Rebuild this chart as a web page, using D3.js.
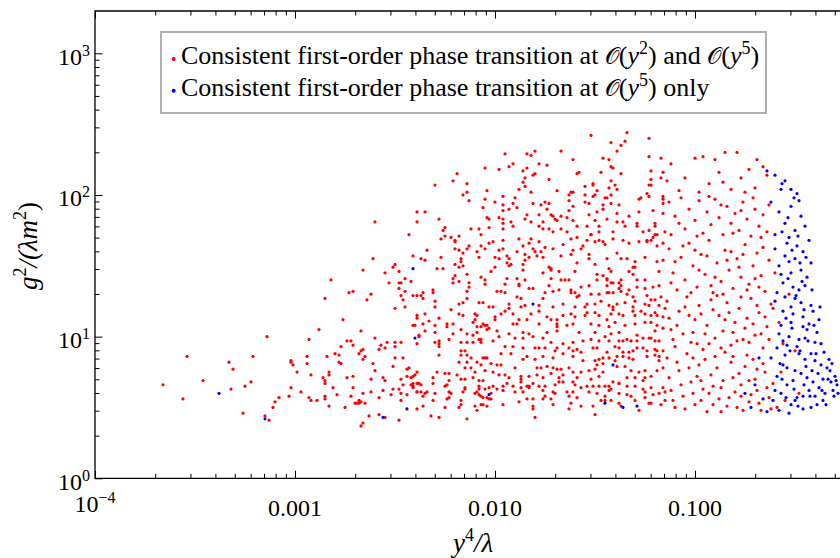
<!DOCTYPE html>
<html>
<head>
<meta charset="utf-8">
<script src="https://cdn.jsdelivr.net/npm/d3@7"></script>
<style>
  html, body { margin: 0; padding: 0; background: #fff; }
  svg { display: block; }
  text { font-family: "Liberation Serif", "DejaVu Serif", serif; fill: #000; }
</style>
</head>
<body>
<svg id="chart" width="840" height="558"></svg>
<script>
// Scan points, each stored as [log10(y^4/λ), log10(g^2/(λ m^2))]
// Consistent first-order transition at both O(y^2) and O(y^5)
const redPoints = [
  [-3.14,1.00],[-2.93,0.98],[-3.54,0.86],[-3.21,0.86],[-2.94,0.86],[-3.33,0.82],[-3.02,0.83],[-3.02,0.82],[-3.01,0.80],[-2.94,0.81],
  [-3.31,0.77],[-2.99,0.75],[-2.92,0.73],[-3.66,0.66],[-3.46,0.69],[-3.22,0.68],[-3.25,0.65],[-3.32,0.63],[-3.02,0.64],[-2.97,0.61],
  [-3.56,0.56],[-3.03,0.58],[-3.08,0.57],[-3.10,0.54],[-2.93,0.57],[-2.92,0.55],[-3.11,0.50],[-3.26,0.46],[-3.15,0.44],[-3.13,0.41],
  [-2.05,2.19],[-2.19,2.15],[-2.21,2.10],[-2.30,2.07],[-2.14,2.08],[-2.04,2.03],[-2.16,2.00],[-2.14,2.02],[-2.05,1.97],[-2.13,1.96],
  [-2.06,1.91],[-2.39,1.88],[-2.35,1.88],[-2.28,1.83],[-2.60,1.81],[-2.39,1.81],[-2.04,1.84],[-2.03,1.83],
  [-2.25,1.77],[-2.03,1.77],[-2.26,1.75],[-2.12,1.76],[-2.08,1.76],[-2.07,1.72],[-2.43,1.72],[-2.25,1.71],[-2.18,1.71],[-2.27,1.69],
  [-2.22,1.70],[-2.20,1.68],[-2.20,1.67],[-2.03,1.66],[-2.13,1.64],[-2.07,1.64],[-2.14,1.62],[-2.20,1.62],[-2.18,1.61],[-2.05,1.62],
  [-2.09,1.60],[-2.16,1.59],[-2.34,1.61],[-2.41,1.57],[-2.37,1.55],[-2.35,1.54],[-2.27,1.56],[-2.17,1.55],[-2.61,1.55],[-2.17,1.53],
  [-2.08,1.56],[-2.50,1.51],[-2.51,1.49],[-2.20,1.51],[-2.18,1.49],[-2.16,1.50],[-2.29,1.48],[-2.26,1.48],[-2.66,1.47],[-2.48,1.46],
  [-2.55,1.45],[-2.14,1.44],[-2.20,1.43],[-2.21,1.41],[-2.07,1.42],[-2.45,1.41],[-2.82,1.40],[-2.05,1.40],[-2.18,1.39],[-2.21,1.38],
  [-2.13,1.38],[-2.53,1.38],[-2.48,1.38],[-2.47,1.38],[-2.42,1.39],[-2.05,1.37],[-2.48,1.34],[-2.45,1.32],[-2.31,1.33],[-2.31,1.31],
  [-2.13,1.35],[-2.14,1.32],[-2.14,1.27],[-2.73,1.31],[-2.71,1.32],[-2.62,1.30],[-2.36,1.31],[-2.37,1.29],[-2.39,1.29],[-2.41,1.29],
  [-2.47,1.29],[-2.36,1.27],[-2.85,1.27],[-2.64,1.26],[-2.46,1.26],[-2.30,1.25],[-2.16,1.24],[-2.18,1.23],[-2.06,1.24],[-2.08,1.24],
  [-2.03,1.21],[-2.30,1.21],[-2.50,1.20],[-2.45,1.21],[-2.22,1.19],[-2.18,1.16],[-2.16,1.15],[-2.10,1.16],[-2.09,1.15],[-2.35,1.16],
  [-2.39,1.15],[-2.39,1.13],[-2.28,1.13],[-2.76,1.12],[-2.40,1.08],[-2.33,1.11],[-2.24,1.09],[-2.21,1.09],[-2.10,1.12],[-2.11,1.10],
  [-2.06,1.09],[-2.05,1.08],[-2.04,1.08],[-2.09,1.07],[-2.03,1.06],[-2.04,1.05],[-2.30,1.08],[-2.24,1.07],[-2.36,1.09],[-2.41,1.08],
  [-2.35,1.04],[-2.17,1.05],[-2.07,1.07],[-2.88,1.05],[-2.67,1.04],[-2.30,1.03],[-2.21,1.02],[-2.14,1.02],[-2.09,1.03],[-2.38,1.01],
  [-2.60,0.99],[-2.38,1.00],[-2.74,0.97],[-2.72,0.97],[-2.71,0.94],[-2.54,0.96],[-2.50,0.96],[-2.47,0.96],[-2.39,0.95],[-2.57,0.94],
  [-2.55,0.92],[-2.50,0.93],[-2.58,0.91],[-2.30,0.96],[-2.28,0.95],[-2.28,0.97],[-2.28,0.93],[-2.23,0.98],[-2.17,0.96],[-2.14,0.96],
  [-2.11,1.01],[-2.11,0.96],[-2.08,0.98],[-2.07,0.98],[-2.07,0.96],[-2.77,0.93],[-2.66,0.91],[-2.67,0.90],[-2.68,0.88],[-2.65,0.86],
  [-2.80,0.88],[-2.78,0.87],[-2.84,0.86],[-2.66,0.84],[-2.50,0.85],[-2.46,0.85],[-2.28,0.87],[-2.17,0.90],[-2.15,0.90],[-2.14,0.87],
  [-2.17,0.87],[-2.06,0.85],[-2.04,0.85],[-2.05,0.85],[-2.12,0.85],[-2.09,0.82],[-2.18,0.82],[-2.14,0.82],[-2.78,0.82],[-2.77,0.81],
  [-2.61,0.81],[-2.51,0.79],[-2.12,0.78],[-2.15,0.78],[-2.07,0.80],[-2.05,0.76],[-2.60,0.76],[-2.83,0.75],[-2.83,0.73],[-2.44,0.77],
  [-2.43,0.78],[-2.39,0.75],[-2.40,0.73],[-2.41,0.72],[-2.42,0.71],[-2.29,0.75],[-2.25,0.74],[-2.23,0.74],[-2.31,0.71],[-2.19,0.73],
  [-2.10,0.75],[-2.86,0.71],[-2.85,0.69],[-2.85,0.67],[-2.74,0.71],[-2.71,0.72],[-2.62,0.70],[-2.56,0.71],[-2.55,0.69],[-2.47,0.70],
  [-2.44,0.72],[-2.41,0.67],[-2.39,0.67],[-2.38,0.67],[-2.37,0.66],[-2.42,0.66],[-2.41,0.65],[-2.41,0.64],[-2.46,0.66],[-2.31,0.67],
  [-2.23,0.69],[-2.25,0.65],[-2.24,0.66],[-2.17,0.70],[-2.15,0.70],[-2.11,0.71],[-2.08,0.69],[-2.06,0.69],[-2.08,0.65],[-2.08,0.63],
  [-2.09,0.61],[-2.05,0.63],[-2.03,0.64],[-2.81,0.64],[-2.71,0.64],[-2.62,0.61],[-2.56,0.62],[-2.51,0.63],[-2.48,0.63],[-2.47,0.60],
  [-2.44,0.59],[-2.52,0.59],[-2.39,0.61],[-2.37,0.61],[-2.39,0.61],[-2.34,0.61],[-2.35,0.60],[-2.36,0.58],[-2.30,0.60],[-2.23,0.61],
  [-2.22,0.60],[-2.15,0.63],[-2.15,0.64],[-2.16,0.61],[-2.10,0.60],[-2.08,0.59],[-2.07,0.58],[-2.06,0.57],[-2.04,0.57],[-2.03,0.56],
  [-2.79,0.59],[-2.85,0.58],[-2.85,0.56],[-2.66,0.60],[-2.72,0.58],[-2.89,0.55],[-2.58,0.57],[-2.68,0.55],[-2.69,0.53],[-2.70,0.53],
  [-2.68,0.53],[-2.67,0.54],[-2.65,0.53],[-2.47,0.55],[-2.31,0.55],[-2.23,0.57],[-2.24,0.56],[-2.17,0.55],[-2.17,0.52],[-2.18,0.50],
  [-2.07,0.52],[-2.06,0.52],[-2.04,0.51],[-2.10,0.51],[-2.09,0.48],[-2.83,0.51],[-2.75,0.50],[-2.36,0.51],[-2.39,0.49],[-2.25,0.50],
  [-2.58,0.45],[-2.55,0.43],[-2.63,0.44],[-2.32,0.44],[-2.28,0.43],[-2.14,0.42],[-2.48,0.41],[-2.66,0.39],[-2.67,0.37],
  [-1.34,2.44],[-1.52,2.42],[-1.42,2.37],[-1.35,2.38],[-1.23,2.40],[-1.37,2.35],[-1.95,2.29],[-1.84,2.29],[-1.82,2.28],[-1.80,2.31],
  [-1.67,2.31],[-1.39,2.31],[-1.46,2.26],[-1.43,2.25],[-1.61,2.25],[-1.23,2.27],[-1.17,2.26],[-1.91,2.22],[-1.93,2.20],[-1.98,2.18],
  [-1.84,2.19],[-1.86,2.17],[-1.78,2.22],[-1.74,2.21],[-1.42,2.20],[-1.41,2.19],[-1.47,2.16],[-1.22,2.17],[-1.16,2.16],[-1.59,2.15],
  [-1.58,2.16],[-1.37,2.15],[-1.81,2.14],[-1.80,2.15],[-1.85,2.12],[-1.86,2.09],[-1.73,2.11],[-1.42,2.10],[-1.22,2.11],[-1.17,2.12],
  [-1.88,2.04],[-1.85,2.06],[-1.82,2.02],[-1.51,2.08],[-1.51,2.07],[-1.40,2.07],[-1.55,2.06],[-1.49,2.03],[-1.43,2.05],[-1.39,2.04],
  [-1.23,2.07],[-1.22,2.07],[-1.69,2.03],[-1.62,2.02],[-1.61,2.02],[-1.96,1.99],[-1.90,1.98],[-1.63,2.00],[-1.55,2.00],[-1.50,2.00],
  [-1.51,1.99],[-1.42,2.00],[-1.44,1.98],[-1.45,1.98],[-1.24,2.01],[-1.23,1.99],[-1.27,1.98],[-1.28,1.97],[-1.16,1.99],[-1.16,1.97],
  [-2.00,1.95],[-1.96,1.93],[-1.91,1.94],[-1.81,1.94],[-1.77,1.93],[-1.75,1.95],[-1.73,1.94],[-1.74,1.90],[-1.63,1.96],[-1.61,1.92],
  [-1.55,1.95],[-1.53,1.94],[-1.89,1.91],[-1.93,1.90],[-1.96,1.89],[-1.63,1.89],[-1.46,1.93],[-1.42,1.94],[-1.38,1.93],[-1.16,1.94],
  [-1.21,1.89],[-1.39,1.87],[-1.53,1.86],[-1.84,1.86],[-1.78,1.86],[-1.72,1.86],[-1.71,1.85],[-1.67,1.85],[-1.64,1.84],[-1.49,1.88],
  [-1.46,1.90],[-1.33,1.85],[-1.28,1.88],[-1.16,1.87],[-1.98,1.84],[-1.96,1.83],[-1.85,1.83],[-1.70,1.83],[-1.69,1.82],[-1.61,1.82],
  [-1.50,1.82],[-1.44,1.83],[-1.39,1.81],[-1.36,1.81],[-1.29,1.80],[-1.82,1.81],[-1.76,1.81],[-1.20,1.80],[-1.96,1.80],[-1.92,1.81],
  [-1.96,1.76],[-1.91,1.78],[-1.78,1.78],[-1.76,1.76],[-1.73,1.76],[-1.71,1.74],[-1.67,1.76],[-1.64,1.74],[-1.59,1.78],[-1.54,1.78],
  [-1.48,1.78],[-1.48,1.74],[-1.52,1.72],[-1.41,1.74],[-1.35,1.78],[-1.29,1.78],[-1.26,1.74],[-1.23,1.75],[-1.20,1.78],[-1.19,1.72],
  [-1.15,1.74],[-2.01,1.67],[-1.96,1.68],[-1.88,1.69],[-1.82,1.69],[-1.83,1.66],[-1.78,1.67],[-1.86,1.64],[-1.96,1.62],[-1.98,1.61],
  [-1.89,1.60],[-1.81,1.62],[-1.80,1.60],[-1.77,1.60],[-1.75,1.63],[-1.71,1.62],[-1.62,1.69],[-1.59,1.70],[-1.54,1.68],[-1.52,1.72],
  [-1.50,1.67],[-1.48,1.68],[-1.46,1.67],[-1.45,1.65],[-1.41,1.69],[-1.36,1.68],[-1.33,1.66],[-1.28,1.67],[-1.24,1.67],[-1.24,1.68],
  [-1.22,1.68],[-1.21,1.70],[-1.20,1.72],[-1.19,1.64],[-1.16,1.66],[-1.56,1.64],[-1.57,1.62],[-1.61,1.61],[-1.66,1.65],[-2.00,1.56],
  [-1.98,1.55],[-1.94,1.57],[-1.93,1.55],[-1.85,1.58],[-1.85,1.54],[-1.83,1.56],[-1.79,1.57],[-1.76,1.56],[-1.67,1.57],[-1.62,1.58],
  [-1.53,1.58],[-1.53,1.55],[-1.50,1.51],[-1.44,1.55],[-1.39,1.59],[-1.37,1.55],[-1.34,1.55],[-1.30,1.53],[-1.25,1.56],[-1.19,1.53],
  [-1.16,1.54],[-1.94,1.52],[-1.92,1.51],[-1.93,1.50],[-1.86,1.51],[-1.86,1.47],[-1.73,1.49],[-1.72,1.48],[-1.72,1.47],[-2.00,1.49],
  [-2.02,1.46],[-1.59,1.52],[-1.43,1.48],[-1.33,1.46],[-1.31,1.49],[-1.30,1.49],[-1.31,1.44],[-1.18,1.46],[-1.42,1.46],[-1.76,1.45],
  [-1.68,1.46],[-1.60,1.46],[-1.49,1.44],[-1.46,1.43],[-1.44,1.41],[-1.94,1.41],[-1.89,1.41],[-1.85,1.40],[-1.72,1.41],[-1.67,1.40],
  [-1.65,1.40],[-1.63,1.40],[-1.49,1.40],[-1.44,1.40],[-1.37,1.40],[-1.41,1.38],[-1.29,1.40],[-1.25,1.40],[-1.95,1.37],[-1.88,1.37],
  [-1.88,1.36],[-1.83,1.34],[-1.81,1.34],[-1.73,1.36],[-1.68,1.33],[-1.71,1.32],[-1.62,1.33],[-1.57,1.35],[-1.53,1.36],[-1.44,1.36],
  [-1.42,1.38],[-1.38,1.38],[-1.37,1.36],[-1.38,1.34],[-1.43,1.31],[-1.37,1.32],[-1.34,1.30],[-1.33,1.33],[-1.29,1.35],[-1.25,1.34],
  [-1.21,1.35],[-1.18,1.36],[-1.99,1.32],[-1.97,1.32],[-1.95,1.31],[-1.89,1.28],[-1.87,1.27],[-1.76,1.27],[-1.75,1.31],[-1.62,1.31],
  [-1.60,1.31],[-1.58,1.29],[-1.59,1.28],[-1.52,1.30],[-1.48,1.30],[-1.47,1.25],[-1.44,1.31],[-1.41,1.31],[-1.31,1.28],[-1.24,1.29],
  [-1.22,1.26],[-1.20,1.26],[-1.17,1.28],[-1.93,1.23],[-1.93,1.20],[-2.01,1.21],[-1.95,1.18],[-1.87,1.21],[-1.85,1.22],[-1.78,1.22],
  [-1.71,1.21],[-1.66,1.23],[-1.60,1.21],[-1.55,1.21],[-1.54,1.23],[-1.50,1.23],[-1.43,1.22],[-1.41,1.21],[-1.41,1.19],[-1.39,1.23],
  [-1.35,1.24],[-1.30,1.25],[-1.31,1.21],[-1.25,1.23],[-1.23,1.22],[-1.18,1.22],[-1.15,1.20],[-1.97,1.16],[-2.00,1.14],[-1.91,1.16],
  [-1.91,1.09],[-1.88,1.12],[-1.84,1.12],[-1.78,1.18],[-1.82,1.16],[-1.74,1.14],[-1.72,1.12],[-1.69,1.12],[-1.66,1.15],[-1.62,1.16],
  [-1.60,1.14],[-1.55,1.15],[-1.54,1.17],[-1.50,1.17],[-1.48,1.15],[-1.42,1.16],[-1.38,1.16],[-1.36,1.15],[-1.31,1.18],[-1.30,1.15],
  [-1.27,1.18],[-1.25,1.16],[-1.22,1.15],[-1.20,1.17],[-1.19,1.15],[-1.16,1.14],[-2.00,1.12],[-1.89,1.09],[-1.78,1.09],[-1.69,1.07],
  [-1.69,1.09],[-1.64,1.08],[-1.61,1.09],[-1.52,1.09],[-1.48,1.08],[-1.44,1.12],[-1.43,1.07],[-1.40,1.10],[-1.35,1.08],[-1.30,1.09],
  [-1.25,1.10],[-1.22,1.10],[-1.19,1.08],[-1.16,1.06],[-1.99,1.04],[-1.93,1.02],[-1.86,1.03],[-1.83,1.02],[-1.74,1.03],[-1.69,1.04],
  [-1.58,1.03],[-1.50,1.03],[-1.42,1.02],[-1.38,1.03],[-1.29,1.01],[-1.20,1.04],
  [-2.01,0.97],[-1.98,1.00],[-1.90,0.99],[-1.86,0.99],[-1.81,1.00],[-1.76,0.99],[-1.72,0.96],[-1.66,0.95],[-1.61,0.96],[-1.56,0.97],
  [-1.52,0.98],[-1.48,0.97],[-1.45,1.00],[-1.43,0.97],[-1.38,0.97],[-1.36,0.97],[-1.34,0.98],[-1.32,0.97],[-1.29,0.97],[-1.26,0.99],
  [-1.23,0.99],[-1.22,0.99],[-1.20,0.97],[-1.18,0.97],[-1.95,0.93],[-1.91,0.93],[-1.86,0.92],[-1.80,0.92],[-1.78,0.92],[-1.75,0.92],
  [-1.69,0.92],[-1.63,0.92],[-1.61,0.90],[-1.59,0.91],[-1.57,0.89],[-1.51,0.92],[-1.49,0.92],[-1.44,0.89],[-1.40,0.93],[-1.38,0.92],
  [-1.36,0.89],[-1.33,0.89],[-1.31,0.90],[-1.29,0.92],[-1.26,0.92],[-1.24,0.90],[-1.20,0.91],[-1.19,0.90],[-1.16,0.90],[-1.97,0.88],
  [-1.92,0.88],[-1.84,0.86],[-1.80,0.84],[-1.76,0.86],[-1.71,0.85],[-1.70,0.90],[-1.66,0.88],[-1.61,0.86],[-1.56,0.83],[-1.50,0.83],
  [-1.48,0.84],[-1.46,0.85],[-1.43,0.85],[-1.40,0.83],[-1.39,0.86],[-1.36,0.86],[-1.33,0.85],[-1.31,0.84],[-1.24,0.86],[-1.20,0.87],
  [-1.18,0.86],[-2.02,0.81],[-1.99,0.80],[-1.97,0.80],[-1.90,0.78],[-1.86,0.84],[-1.79,0.78],[-1.77,0.78],[-1.74,0.79],[-1.71,0.78],
  [-1.69,0.77],[-1.67,0.77],[-1.63,0.78],[-1.61,0.75],[-1.57,0.75],[-1.53,0.76],[-1.50,0.77],[-1.49,0.80],[-1.46,0.75],[-1.46,0.81],
  [-1.39,0.79],[-1.35,0.79],[-1.32,0.76],[-1.28,0.75],[-1.25,0.76],[-1.22,0.72],[-1.19,0.76],[-1.18,0.83],[-1.16,0.78],[-2.01,0.75],
  [-1.98,0.73],[-1.95,0.73],[-1.93,0.71],[-1.87,0.72],[-1.87,0.70],[-1.83,0.72],[-1.79,0.73],[-1.76,0.71],[-1.72,0.74],[-1.68,0.71],
  [-1.66,0.73],[-1.61,0.68],[-1.59,0.71],[-1.52,0.70],[-1.48,0.72],[-1.41,0.68],[-1.38,0.67],[-1.34,0.71],[-1.30,0.71],[-1.26,0.69],
  [-1.25,0.71],[-2.01,0.65],[-1.96,0.65],[-1.94,0.67],[-1.91,0.65],[-1.87,0.68],[-1.87,0.64],[-1.84,0.65],[-1.83,0.65],[-1.81,0.67],
  [-1.78,0.65],[-1.75,0.65],[-1.70,0.66],[-1.68,0.68],[-1.66,0.68],[-1.60,0.66],[-1.54,0.65],[-1.51,0.65],[-1.48,0.65],[-1.45,0.65],
  [-1.43,0.65],[-1.42,0.63],[-1.38,0.67],[-1.34,0.65],[-1.30,0.65],[-1.26,0.63],[-1.22,0.64],[-1.16,0.64],[-2.02,0.60],[-1.99,0.63],
  [-1.96,0.62],[-1.90,0.61],[-1.86,0.61],[-1.83,0.64],[-1.76,0.62],[-1.71,0.61],[-1.70,0.60],[-1.64,0.61],[-1.61,0.61],[-1.57,0.64],
  [-1.53,0.61],[-1.49,0.60],[-1.43,0.62],[-1.38,0.60],[-1.34,0.59],[-1.32,0.58],[-1.25,0.61],[-1.21,0.59],[-1.18,0.60],[-1.15,0.61],
  [-2.02,0.56],[-1.96,0.52],[-1.88,0.54],[-1.84,0.56],[-1.81,0.56],[-1.76,0.56],[-1.75,0.58],[-1.72,0.56],[-1.71,0.52],[-1.63,0.58],
  [-1.62,0.53],[-1.59,0.57],[-1.57,0.51],[-1.47,0.55],[-1.45,0.58],[-1.42,0.55],[-1.38,0.53],[-1.30,0.55],[-1.25,0.57],[-1.23,0.53],
  [-1.17,0.52],[-1.81,0.51],[-1.81,0.49],[-1.80,0.43],[-1.63,0.49],[-1.51,0.51],[-1.50,0.45],[-1.45,0.55],[-1.37,0.51],[-1.28,0.48],
  [-1.22,0.53],
  [-1.12,2.22],[-1.05,2.12],[-1.00,2.26],[-0.96,2.27],[-0.93,2.08],[-0.90,2.25],[-0.88,2.16],[-0.85,2.30],[-0.82,2.04],[-0.79,2.30],
  [-0.77,2.12],[-0.73,2.18],[-0.70,2.05],[-0.69,2.25],[-0.66,2.20],[-1.08,2.03],[-1.14,2.10],[-0.98,2.02],[-0.86,2.09],[-0.75,2.02],
  [-0.64,2.14],
  [-1.13,1.95],[-1.10,1.85],[-1.07,1.98],[-1.05,1.76],[-1.03,1.90],[-1.00,1.82],[-0.98,1.96],[-0.96,1.73],[-0.94,1.88],[-0.92,1.79],
  [-0.90,1.97],[-0.88,1.84],[-0.86,1.72],[-0.84,1.92],[-0.82,1.80],[-0.80,1.87],[-0.78,1.75],[-0.76,1.95],[-0.74,1.83],[-0.72,1.71],
  [-0.70,1.90],[-0.68,1.78],[-0.66,1.86],[-0.64,1.74],[-1.12,1.72],[-1.08,1.80],[-0.99,1.71],[-0.93,1.99],[-0.87,1.93],[-0.81,1.73],
  [-0.77,1.89],[-0.71,1.98],[-0.67,1.70],[-0.63,1.93],
  [-1.13,1.62],[-1.11,1.45],[-1.09,1.33],[-1.07,1.56],[-1.05,1.40],[-1.03,1.66],[-1.01,1.50],[-0.99,1.35],[-0.97,1.58],[-0.95,1.44],
  [-0.93,1.68],[-0.91,1.31],[-0.89,1.52],[-0.87,1.39],[-0.85,1.61],[-0.83,1.47],[-0.81,1.34],[-0.79,1.55],[-0.77,1.42],[-0.75,1.65],
  [-0.73,1.37],[-0.71,1.50],[-0.69,1.59],[-0.67,1.43],[-0.65,1.32],[-0.63,1.54],[-1.12,1.38],[-1.06,1.64],[-1.02,1.31],[-0.98,1.47],
  [-0.94,1.57],[-0.90,1.42],[-0.86,1.30],[-0.82,1.60],[-0.78,1.49],[-0.74,1.33],[-0.70,1.41],[-0.66,1.63],[-1.10,1.53],[-1.00,1.61],
  [-0.92,1.36],[-0.84,1.54],[-0.76,1.58],[-0.68,1.35],
  [-1.14,1.25],[-1.12,1.05],[-1.10,0.93],[-1.08,1.18],[-1.06,1.02],[-1.04,1.28],[-1.02,0.96],[-1.00,1.12],[-0.98,1.22],[-0.96,0.91],
  [-0.94,1.08],[-0.92,1.26],[-0.90,0.99],[-0.88,1.15],[-0.86,1.04],[-0.84,1.24],[-0.82,0.94],[-0.80,1.10],[-0.78,1.20],[-0.76,0.98],
  [-0.74,1.13],[-0.72,1.27],[-0.70,1.01],[-0.68,1.17],[-0.66,0.92],[-0.64,1.07],[-0.62,1.23],[-1.13,1.13],[-1.09,1.08],[-1.05,1.21],
  [-1.01,1.03],[-0.97,1.16],[-0.93,0.95],[-0.89,1.29],[-0.85,1.12],[-0.81,1.03],[-0.77,1.28],[-0.73,0.96],[-0.69,1.22],[-0.65,1.14],
  [-1.11,0.98],[-1.03,1.15],[-0.95,1.02],[-0.87,0.92],[-0.79,0.97],[-0.71,1.09],[-0.63,0.98],[-0.99,0.95],[-0.91,1.19],[-0.83,1.17],
  [-0.75,1.06],[-0.67,1.02],
  [-1.14,0.85],[-1.12,0.62],[-1.10,0.50],[-1.08,0.76],[-1.06,0.58],[-1.04,0.88],[-1.02,0.68],[-1.00,0.52],[-0.98,0.80],[-0.96,0.63],
  [-0.94,0.47],[-0.92,0.73],[-0.90,0.86],[-0.88,0.56],[-0.86,0.69],[-0.84,0.51],[-0.82,0.82],[-0.80,0.61],[-0.78,0.74],[-0.76,0.48],
  [-0.74,0.87],[-0.72,0.59],[-0.70,0.70],[-0.68,0.53],[-0.66,0.81],[-0.64,0.64],[-0.62,0.49],[-1.13,0.71],[-1.11,0.55],[-1.07,0.66],
  [-1.05,0.49],[-1.03,0.78],[-1.01,0.60],[-0.99,0.72],[-0.97,0.55],[-0.95,0.84],[-0.93,0.60],[-0.91,0.52],[-0.89,0.78],[-0.87,0.64],
  [-0.85,0.89],[-0.83,0.57],[-0.81,0.71],[-0.79,0.50],[-0.77,0.66],[-0.75,0.79],[-0.73,0.54],[-0.71,0.84],[-0.69,0.62],[-0.67,0.48],
  [-0.65,0.75],[-0.63,0.57],[-1.09,0.82],[-0.97,0.69],[-0.87,0.47],[-0.77,0.58],[-0.69,0.77],[-1.15,0.55],[-1.01,0.85],[-0.91,0.65],
  [-0.81,0.86],[-0.73,0.69],[-0.61,0.67],
  [-0.60,1.45],[-0.58,1.10],[-0.57,0.75],[-0.55,0.55],[-0.53,1.30],[-0.50,0.90],[-0.48,0.60],[-0.59,0.50],[-0.61,1.20],[-0.56,0.95]
];

// Consistent first-order transition at O(y^5) only
const bluePoints = [
  [-3.38,0.60],[-3.15,0.42],[-2.41,1.48],[-2.40,0.99],[-2.03,0.59],[-2.44,0.49],[-2.56,0.43],[-1.81,1.23],[-1.41,0.80],[-1.45,0.53],
  [-1.36,0.50],[-1.29,0.51],
  [-0.64,2.17],[-0.60,2.14],[-0.57,2.04],[-0.52,2.04],[-0.49,2.01],[-0.55,2.10],[-0.62,1.95],[-0.58,1.88],[-0.55,1.80],[-0.52,1.92],
  [-0.50,1.75],[-0.47,1.85],[-0.45,1.78],[-0.60,1.72],[-0.53,1.70],[-0.48,1.96],
  [-0.60,1.62],[-0.58,1.50],[-0.56,1.38],[-0.54,1.66],[-0.52,1.45],[-0.50,1.55],[-0.48,1.33],[-0.46,1.60],[-0.44,1.42],[-0.42,1.52],
  [-0.59,1.31],[-0.55,1.57],[-0.51,1.35],[-0.47,1.47],[-0.43,1.68],[-0.57,1.44],[-0.53,1.53],[-0.49,1.64],[-0.45,1.36],
  [-0.60,1.25],[-0.58,1.02],[-0.56,1.18],[-0.54,0.94],[-0.52,1.10],[-0.50,1.27],[-0.48,0.98],[-0.46,1.14],[-0.44,1.05],[-0.42,1.22],
  [-0.40,0.96],[-0.38,1.12],[-0.59,0.92],[-0.57,1.08],[-0.55,1.28],[-0.53,1.00],[-0.51,1.16],[-0.49,0.93],[-0.47,1.24],[-0.45,0.99],
  [-0.43,1.09],[-0.41,1.18],[-0.39,1.03],[-0.37,0.95],[-0.52,1.21],[-0.46,1.07],[-0.56,0.97],
  [-0.62,0.85],[-0.60,0.62],[-0.58,0.48],[-0.56,0.80],[-0.54,0.66],[-0.52,0.52],[-0.50,0.76],[-0.48,0.88],[-0.46,0.58],[-0.44,0.71],
  [-0.42,0.50],[-0.40,0.83],[-0.38,0.64],[-0.36,0.55],[-0.34,0.78],[-0.32,0.68],[-0.30,0.72],[-0.29,0.66],[-0.61,0.55],[-0.59,0.72],
  [-0.57,0.60],[-0.55,0.87],[-0.53,0.46],[-0.51,0.69],[-0.49,0.57],[-0.47,0.74],[-0.45,0.84],[-0.43,0.62],[-0.41,0.68],[-0.39,0.52],
  [-0.37,0.80],[-0.35,0.60],[-0.33,0.84],[-0.31,0.62],[-0.54,0.78],[-0.46,0.49],[-0.40,0.58],[-0.36,0.70],[-0.42,0.88],[-0.50,0.55],
  [-0.72,0.50],[-0.70,0.66],[-0.66,0.56],[-0.68,0.85],[-0.75,0.60],[-0.64,0.47],
  [-0.565,1.74],[-0.515,1.61],[-0.475,1.52],[-0.535,1.41],[-0.495,1.29],[-0.455,1.19],[-0.515,1.06],[-0.475,0.90],[-0.445,0.79],
  [-0.505,0.63],[-0.565,0.70],[-0.425,0.58],[-0.385,0.74],[-0.355,0.89],[-0.325,0.76],[-0.305,0.58],[-0.345,0.52],[-0.415,1.33],
  [-0.435,0.97],[-0.465,1.39],[-0.545,1.13],[-0.575,0.81],[-0.525,0.90],[-0.485,1.71],[-0.445,1.56],[-0.405,1.08],[-0.375,1.21],
  [-0.395,0.88],[-0.545,0.57],[-0.485,0.51],[-0.455,0.66],[-0.535,1.84],[-0.505,1.98],[-0.565,2.08],[-0.415,0.76],[-0.365,0.62],
  [-0.335,0.70],[-0.285,0.60],[-0.315,0.81],[-0.295,0.69]
];

const xMajorTicks = [1e-4, 1e-3, 1e-2, 1e-1];
const xTickLabels = [["10", "\u22124"], ["0.001"], ["0.010"], ["0.100"]];
const yMajorTicks = [1, 10, 100, 1000];
const yTickLabels = [["10", "0"], ["10", "1"], ["10", "2"], ["10", "3"]];

// Legend rows as rich-text runs: n = plain, i = italic, c = calligraphic, s = superscript
const legendRows = [
  { color: "#ff0000", runs: [
    ["Consistent first-order phase transition at ", "n"], ["\uD835\uDCAA", "c"], ["(", "n"], ["y", "i"], ["2", "s"],
    [") and ", "n"], ["\uD835\uDCAA", "c"], ["(", "n"], ["y", "i"], ["5", "s"], [")", "n"] ] },
  { color: "#0000ff", runs: [
    ["Consistent first-order phase transition at ", "n"], ["\uD835\uDCAA", "c"], ["(", "n"], ["y", "i"], ["5", "s"],
    [") only", "n"] ] }
];

const W = 840, H = 558;
const serif = "'Liberation Serif', 'DejaVu Serif', serif";
const plot = { left: 95, right: 840, top: 11, bottom: 478.3 };
const decadeX = 200, decadeY = 141.67;
const xMax = Math.pow(10, -4 + (plot.right - plot.left) / decadeX);
const yMax = Math.pow(10, (plot.bottom - plot.top) / decadeY);

const x = d3.scaleLog().domain([1e-4, xMax]).range([plot.left, plot.right]);
const y = d3.scaleLog().domain([1, yMax]).range([plot.bottom, plot.top]);

const svg = d3.select("#chart");
svg.append("rect").attr("width", W).attr("height", H).attr("fill", "#fff");

// minor tick values for each decade
const xMinor = [];
for (let e = -4; e < 0; e++) for (let k = 2; k < 10; k++) { const v = k * Math.pow(10, e); if (v < xMax) xMinor.push(v); }
const yMinor = [];
for (let e = 0; e < 4; e++) for (let k = 2; k < 10; k++) { const v = k * Math.pow(10, e); if (v < yMax) yMinor.push(v); }

function tidy(g) {
  g.select(".domain").remove();
  g.selectAll(".tick line").attr("stroke", "#000").attr("stroke-width", 1);
  g.selectAll(".tick text").remove();
}
const majorLen = 7.5, minorLen = 4.5;

// bottom and top ticks (pointing inward)
svg.append("g").attr("transform", `translate(0,${plot.bottom})`)
  .call(d3.axisBottom(x).tickValues(xMajorTicks).tickSize(-majorLen).tickSizeOuter(0)).call(tidy);
svg.append("g").attr("transform", `translate(0,${plot.bottom})`)
  .call(d3.axisBottom(x).tickValues(xMinor).tickSize(-minorLen).tickSizeOuter(0)).call(tidy);
svg.append("g").attr("transform", `translate(0,${plot.top})`)
  .call(d3.axisTop(x).tickValues(xMajorTicks).tickSize(-majorLen).tickSizeOuter(0)).call(tidy);
svg.append("g").attr("transform", `translate(0,${plot.top})`)
  .call(d3.axisTop(x).tickValues(xMinor).tickSize(-minorLen).tickSizeOuter(0)).call(tidy);
// left ticks
svg.append("g").attr("transform", `translate(${plot.left},0)`)
  .call(d3.axisLeft(y).tickValues(yMajorTicks).tickSize(-majorLen).tickSizeOuter(0)).call(tidy);
svg.append("g").attr("transform", `translate(${plot.left},0)`)
  .call(d3.axisLeft(y).tickValues(yMinor).tickSize(-minorLen).tickSizeOuter(0)).call(tidy);

// frame (left, top, bottom)
svg.append("path")
  .attr("d", `M${plot.right},${plot.top}H${plot.left}V${plot.bottom}H${plot.right}`)
  .attr("fill", "none").attr("stroke", "#000").attr("stroke-width", 1.3);

// tick labels
const tickFont = 24, supFont = 16;
xMajorTicks.forEach((v, i) => {
  const lab = xTickLabels[i];
  const t = svg.append("text").attr("x", x(v)).attr("y", lab.length > 1 ? 512 : 516)
    .attr("text-anchor", "middle").attr("font-family", serif).attr("font-size", tickFont);
  t.append("tspan").text(lab[0]);
  if (lab.length > 1) t.append("tspan").attr("font-size", supFont).attr("dy", -9).text(lab[1]);
});
yMajorTicks.forEach((v, i) => {
  const lab = yTickLabels[i];
  const t = svg.append("text").attr("x", 90).attr("y", y(v) + 11.5)
    .attr("text-anchor", "end").attr("font-family", serif).attr("font-size", tickFont);
  t.append("tspan").text(lab[0]);
  t.append("tspan").attr("font-size", supFont).attr("dy", -9).text(lab[1]);
});

// axis titles
const xt = svg.append("text").attr("x", 473).attr("y", 552).attr("text-anchor", "middle")
  .attr("font-family", serif).attr("font-size", 27).attr("font-style", "italic");
xt.append("tspan").text("y");
xt.append("tspan").attr("font-size", 18).attr("dy", -11).attr("font-style", "normal").text("4");
xt.append("tspan").attr("dy", 11).text("/\u03BB");

const yt = svg.append("text").attr("transform", "translate(37,246) rotate(-90)").attr("text-anchor", "middle")
  .attr("font-family", serif).attr("font-size", 27).attr("font-style", "italic");
yt.append("tspan").text("g");
yt.append("tspan").attr("font-size", 18).attr("dy", -11).attr("font-style", "normal").text("2");
yt.append("tspan").attr("dy", 11).text("/(\u03BBm");
yt.append("tspan").attr("font-size", 18).attr("dy", -11).attr("font-style", "normal").text("2");
yt.append("tspan").attr("dy", 11).attr("font-style", "normal").text(")");

// points
const pts = svg.append("g");
pts.selectAll("circle.red").data(redPoints).join("circle").attr("class", "red")
  .attr("cx", d => x(Math.pow(10, d[0]))).attr("cy", d => y(Math.pow(10, d[1])))
  .attr("r", 1.6).attr("fill", "#ff0000");
pts.selectAll("circle.blue").data(bluePoints).join("circle").attr("class", "blue")
  .attr("cx", d => x(Math.pow(10, d[0]))).attr("cy", d => y(Math.pow(10, d[1])))
  .attr("r", 1.6).attr("fill", "#0000ff");

// legend
const lg = svg.append("g");
lg.append("rect").attr("x", 161).attr("y", 32).attr("width", 605).attr("height", 81)
  .attr("fill", "#fff").attr("stroke", "#b0b0b0").attr("stroke-width", 2);
legendRows.forEach((row, i) => {
  const base = 64 + i * 31.7;
  lg.append("circle").attr("cx", 173.7).attr("cy", base - 5).attr("r", 2).attr("fill", row.color);
  const t = lg.append("text").attr("x", 181).attr("y", base)
    .attr("font-family", serif).attr("font-size", 26);
  let raised = false;
  row.runs.forEach(([s, kind]) => {
    const sp = t.append("tspan").text(s);
    if (kind === "i") sp.attr("font-style", "italic");
    if (kind === "c") sp.attr("font-family", "'DejaVu Serif', 'DejaVu Sans', serif").attr("font-size", 23);
    if (kind === "s") { sp.attr("font-size", 18).attr("dy", -10); raised = true; }
    else if (raised) { sp.attr("dy", 10); raised = false; }
  });
});
</script>
</body>
</html>
